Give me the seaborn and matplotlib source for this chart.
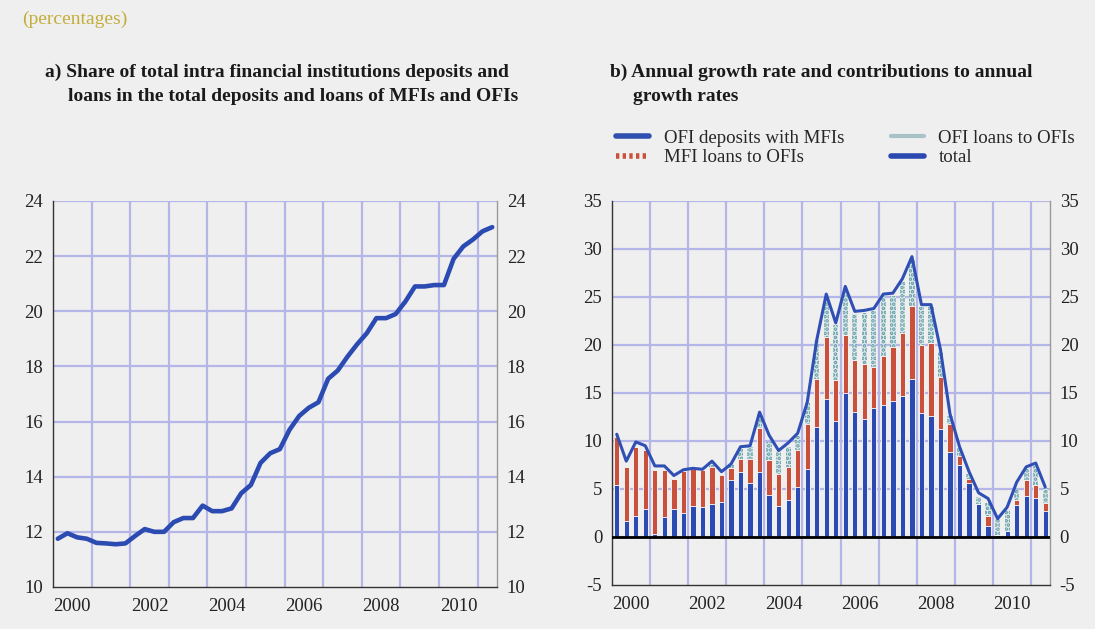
import numpy as np
import pandas as pd
import seaborn as sns
import matplotlib.pyplot as plt
from matplotlib.lines import Line2D

# quarterly observations 2000Q1 - 2011Q2
quarters = [f"{y}Q{q}" for y in range(2000, 2012) for q in range(1, 5)][:46]

# panel a) share of intra financial institutions deposits and loans (%)
share = [11.75, 11.95, 11.8, 11.75, 11.6, 11.58, 11.55, 11.58,
         11.85, 12.1, 12.0, 12.0, 12.35, 12.5, 12.5, 12.95,
         12.75, 12.75, 12.85, 13.4, 13.7, 14.5, 14.85, 15.0,
         15.7, 16.2, 16.5, 16.7, 17.55, 17.85, 18.35, 18.8,
         19.2, 19.75, 19.75, 19.9, 20.35, 20.9, 20.9, 20.95,
         20.95, 21.9, 22.35, 22.6, 22.9, 23.05]

# panel b) contributions to annual growth rate (percentage points)
ofi_dep = [5.4, 1.7, 2.2, 2.9, 0.3, 2.1, 2.9, 2.5,
           3.2, 3.1, 3.4, 3.6, 5.9, 6.8, 5.6, 6.8,
           4.4, 3.2, 3.9, 5.2, 7.1, 11.5, 14.4, 12.1,
           15.0, 13.0, 12.3, 13.4, 13.7, 14.2, 14.7, 16.5,
           12.9, 12.6, 11.2, 8.9, 7.5, 5.6, 3.4, 1.1,
           0.2, 0.6, 3.3, 4.3, 4.1, 2.7]
mfi_loans = [5.0, 5.6, 7.2, 6.2, 6.7, 4.9, 3.1, 4.4,
             3.9, 3.9, 3.9, 2.9, 1.25, 1.3, 2.5, 4.5,
             3.6, 3.4, 3.4, 3.9, 4.7, 5.0, 6.4, 4.3,
             6.0, 5.4, 5.7, 4.3, 5.2, 5.6, 6.5, 7.6,
             7.1, 7.6, 5.5, 2.9, 0.9, 0.4, 0.0, 1.1,
             0.0, 0.0, 0.6, 1.6, 1.3, 0.8]
ofi_loans = [0.0, 0.0, 0.0, 0.0, 0.0, 0.0, 0.0, 0.0,
             0.0, 0.0, 0.4, 0.0, 0.4, 1.1, 1.3, 1.4,
             1.9, 2.3, 2.1, 1.4, 2.2, 4.0, 4.1, 5.7,
             4.8, 4.8, 5.3, 5.8, 6.1, 5.3, 5.4, 4.8,
             4.0, 3.8, 2.6, 0.8, 0.9, 0.6, 0.8, 1.3,
             1.7, 2.2, 1.0, 1.2, 2.0, 1.6]
total = [10.7, 7.9, 9.9, 9.5, 7.4, 7.4, 6.4, 7.0,
         7.15, 7.05, 7.9, 6.8, 7.6, 9.4, 9.5, 13.0,
         10.6, 9.0, 9.8, 10.8, 14.0, 20.5, 25.3, 22.3,
         26.1, 23.5, 23.6, 23.8, 25.3, 25.4, 26.9, 29.2,
         24.2, 24.2, 19.5, 12.8, 9.4, 6.8, 4.6, 4.0,
         1.9, 3.1, 5.7, 7.3, 7.7, 5.2]

year_labels = ["2000", "2002", "2004", "2006", "2008", "2010"]

bg = "#efefef"
grid_c = "#b4b6e8"
blue = "#2c4bb2"
red = "#c9503a"
teal = "#5a9aa2"

sns.set_theme(style="white", rc={"axes.facecolor": bg, "figure.facecolor": bg,
                                 "hatch.linewidth": 1.8})
plt.rcParams["font.family"] = ["Liberation Serif", "DejaVu Serif"]

df = pd.DataFrame({"quarter": quarters, "share": share, "ofi_dep": ofi_dep,
                   "mfi_loans": mfi_loans, "ofi_loans": ofi_loans, "total": total})
df["t"] = (df["quarter"].str[:4].astype(int)
           + (df["quarter"].str[-1].astype(int) - 1) * 0.25 + 0.125)
df["lvl_red"] = df["ofi_dep"] + df["mfi_loans"]
df["lvl_teal"] = df["lvl_red"] + df["ofi_loans"]

fig = plt.figure(figsize=(10.95, 6.29), dpi=100)
ax1 = fig.add_axes([0.0484, 0.0668, 0.4055, 0.6137])
ax2 = fig.add_axes([0.5589, 0.070, 0.400, 0.6105])


def style(ax, ymin, ymax, step):
    ax.set_xlim(2000, 2011.5)
    ax.set_ylim(ymin, ymax)
    yt = np.arange(ymin, ymax + 0.1, step)
    ax.set_yticks(yt)
    ax.set_yticklabels([f"{v:g}" for v in yt])
    for v in yt[1:]:
        ax.axhline(v, color=grid_c, lw=1.6, zorder=0)
    for yr in range(2001, 2012):
        ax.axvline(yr, color=grid_c, lw=1.6, zorder=0)
    ax.set_xticks([int(l) + 0.5 for l in year_labels])
    ax.set_xticklabels(year_labels)
    ax.set_xticks(range(2001, 2012, 2), minor=True)
    ax.tick_params(axis="x", which="major", length=0, labelsize=13.5, pad=8, colors="#222")
    ax.tick_params(axis="x", which="minor", length=5, width=1.5, direction="out", color="black")
    ax.tick_params(axis="y", which="major", length=0, labelsize=13.5, pad=7,
                   left=True, right=True, labelleft=True, labelright=True, colors="#222")
    ax.set_xlabel("")
    ax.set_ylabel("")
    ax.spines["top"].set_visible(False)
    ax.spines["left"].set_color("#333")
    ax.spines["left"].set_linewidth(1.0)
    ax.spines["right"].set_color("#9a9a9a")
    ax.spines["right"].set_linewidth(1.0)
    ax.spines["bottom"].set_color("#333")
    ax.spines["bottom"].set_linewidth(1.0)


# panel a
sns.lineplot(data=df, x="t", y="share", color=blue, lw=3.3, ax=ax1, zorder=3)
style(ax1, 10, 24, 2)

# panel b: stacked contributions drawn as cumulative levels
sns.barplot(data=df, x="t", y="lvl_teal", native_scale=True, width=0.55,
            color="#dde8ea", edgecolor=teal, linewidth=0, hatch="....",
            saturation=1, errorbar=None, ax=ax2, zorder=2)
sns.barplot(data=df, x="t", y="lvl_red", native_scale=True, width=0.55,
            color=red, edgecolor="white", linewidth=0.6,
            saturation=1, errorbar=None, ax=ax2, zorder=3)
sns.barplot(data=df, x="t", y="ofi_dep", native_scale=True, width=0.55,
            color=blue, edgecolor="white", linewidth=0.6,
            saturation=1, errorbar=None, ax=ax2, zorder=4)
sns.lineplot(data=df, x="t", y="total", color="#2f4fb5", lw=2.2, ax=ax2, zorder=5)
ax2.axhline(0, color="black", lw=2, zorder=6)
style(ax2, -5, 35, 5)

# texts
fig.text(0.020, 0.962, "(percentages)", color="#c4ae3a", fontsize=14)
fig.text(0.041, 0.877, "a) Share of total intra financial institutions deposits and",
         fontsize=14, fontweight="bold", color="#1a1a1a")
fig.text(0.062, 0.840, "loans in the total deposits and loans of MFIs and OFIs",
         fontsize=14, fontweight="bold", color="#1a1a1a")
fig.text(0.557, 0.877, "b) Annual growth rate and contributions to annual",
         fontsize=14, fontweight="bold", color="#1a1a1a")
fig.text(0.578, 0.840, "growth rates",
         fontsize=14, fontweight="bold", color="#1a1a1a")

handles = [Line2D([], [], color="#3050b0", lw=4),
           Line2D([], [], color=red, lw=4, ls=(0, (0.6, 0.6))),
           Line2D([], [], color="#a9c2c8", lw=3),
           Line2D([], [], color="#2a48b0", lw=4)]
labels = ["OFI deposits with MFIs", "MFI loans to OFIs", "OFI loans to OFIs", "total"]
fig.legend(handles, labels, ncol=2, loc="upper left", bbox_to_anchor=(0.556, 0.806),
           frameon=False, fontsize=13.6, handlelength=1.75, handletextpad=0.75,
           columnspacing=2.5, labelspacing=0.12, borderaxespad=0)

fig.savefig("out.png", dpi=100, facecolor=bg)
